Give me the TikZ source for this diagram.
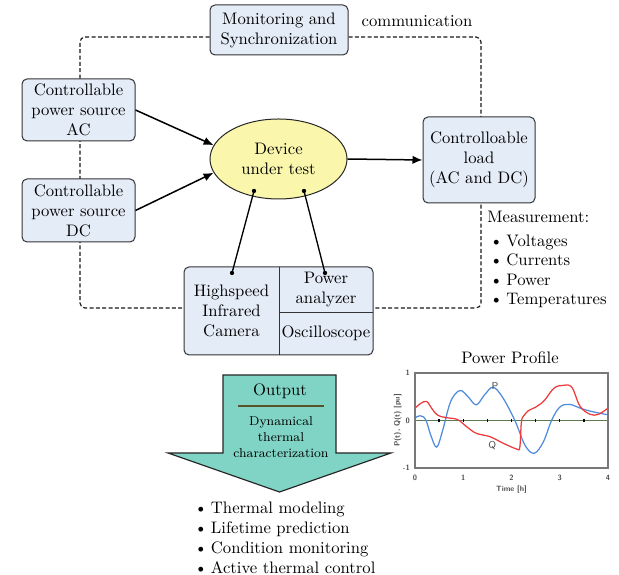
\documentclass[tikz,border=0pt]{standalone}
\usetikzlibrary{shapes.geometric,arrows.meta,calc}
\pgfdeclarelayer{bg}
\pgfsetlayers{bg,main}
\definecolor{boxfill}{RGB}{228,236,247}
\definecolor{dutfill}{RGB}{250,247,172}
\definecolor{outfill}{RGB}{128,212,197}
\definecolor{rulecol}{RGB}{88,84,40}
\definecolor{pcurve}{RGB}{80,140,222}
\definecolor{qcurve}{RGB}{238,58,58}
\definecolor{zeroline}{RGB}{92,122,82}
\definecolor{framecol}{RGB}{120,120,120}

\begin{document}
\begin{tikzpicture}[x=0.6pt,y=-0.6pt,
  font=\fontsize{10}{12}\selectfont,
  wh/.style 2 args={minimum width=#1*0.6pt, minimum height=#2*0.6pt},
  block/.style={draw=black!80, fill=boxfill, rounded corners=3pt, line width=0.6pt,
                align=center, inner sep=0pt},
  flow/.style={line width=0.9pt, -{Latex[length=6pt,width=5pt]}},
  probe/.style={line width=0.8pt},
  comm/.style={line width=0.7pt, black!90, dash pattern=on 2.4pt off 1.4pt, rounded corners=3pt},
  plain/.style={inner sep=0pt, align=center},
  tiny/.style={inner sep=0pt, font=\fontsize{4.6}{5}\selectfont\sffamily\bfseries, text=black!70}]

\useasboundingbox (0,0) rectangle (619,575);

% main blocks
\node[block, wh={138}{50}] (mon) at (279,30) {Monitoring and\\Synchronization};
\node[plain] (commlbl) at (417,21) {communication};
\node[block, wh={113}{62}] (ac) at (78.5,110) {Controllable\\power source\\AC};
\node[block, wh={113}{63}] (dc) at (78.5,210.5) {Controllable\\power source\\DC};
\node[ellipse, draw=black!85, line width=0.6pt, fill=dutfill, wh={137}{80}, plain] (dut) at (278.5,159) {Device\\under test};
\node[block, wh={112}{86}] (load) at (479,160) {Controlloable\\load\\(AC and DC)};

% instrument block
\node[block, wh={189}{88}] (inst) at (278.5,311) {};
\node[plain, wh={95}{88}] (cam) at (231.5,311) {Highspeed\\Infrared\\Camera};
\node[plain, wh={94}{44}] (pa) at (326,290) {Power\\analyzer};
\node[plain, wh={94}{44}] (osc) at (326,333) {Oscilloscope};
\draw[line width=0.6pt, black!80] (cam.north east) -- (cam.south east);
\draw[line width=0.6pt, black!80] (pa.south west) -- (pa.south east);

% communication loop
\coordinate (tl) at (80,37);
\coordinate (bl) at (80,308);
\coordinate (tr) at (481,37);
\coordinate (br) at (481,308);
\begin{pgfonlayer}{bg}
  \draw[comm] (mon.west |- tl) -- (tl) -- (bl) -- (inst.west |- bl);
  \draw[comm] (mon.east |- tr) -- (tr) -- (br) -- (inst.east |- br);
\end{pgfonlayer}

% power flow
\draw[flow] (ac.east) -- (dut.168);
\draw[flow] (dc.east) -- (dut.192);
\draw[flow] (dut.east) -- (load.west);

% probes
\coordinate (d1) at (254,191);
\coordinate (d2) at (304,191);
\coordinate (c1) at (232,273);
\coordinate (c2) at (325,273);
\draw[probe] (d1) -- (c1);
\draw[probe] (d2) -- (c2);
\foreach \p in {d1,d2,c1,c2} \fill (\p) circle (1.3pt);

% measurement list
\node[anchor=north west, inner sep=0pt, align=left,
      font=\fontsize{10}{11.7}\selectfont] (meas) at (487,211)
  {Measurement:\\[2.4pt]
   \hspace*{1.5pt}\textbullet\hspace{2.2pt}Voltages\\
   \hspace*{1.5pt}\textbullet\hspace{2.2pt}Currents\\
   \hspace*{1.5pt}\textbullet\hspace{2.2pt}Power\\
   \hspace*{1.5pt}\textbullet\hspace{2.2pt}Temperatures};

% output arrow
\draw[fill=outfill, draw=black!85, line width=0.7pt]
  (223,375) -- (336,375) -- (336,453) -- (391,453) -- (279.5,492)
  -- (168,453) -- (223,453) -- cycle;
\node[plain] (outlbl) at (280,391) {Output};
\coordinate (r1) at (238,406);
\coordinate (r2) at (324,406);
\draw[rulecol, line width=1.6pt] (r1) -- (r2);
\node[plain, font=\fontsize{7.7}{9.6}\selectfont] (dtc) at (281,437)
  {Dynamical\\thermal\\characterization};

% applications
\node[anchor=north west, inner sep=0pt, align=left,
      font=\fontsize{10}{11.9}\selectfont] (apps) at (194,502)
  {\textbullet\hspace{2.2pt}Thermal modeling\\
   \textbullet\hspace{2.2pt}Lifetime prediction\\
   \textbullet\hspace{2.2pt}Condition monitoring\\
   \textbullet\hspace{2.2pt}Active thermal control};

% power profile plot
\node[plain] (ptitle) at (510,358) {Power Profile};
\begin{scope}[shift={(415,420.5)}, x=28.95pt, y=28.5pt]
  \draw[zeroline, line width=1pt] (0,0) -- (4,0);
  \foreach \t in {0.5,1,...,3.5} \draw[line width=0.8pt] (\t,-0.035) -- (\t,0.035);
  \draw[pcurve, line width=0.75pt] plot[smooth, tension=0.6] coordinates {
    (0,0.05) (0.1,0.1) (0.22,0.02) (0.33,-0.32) (0.45,-0.56) (0.57,-0.22)
    (0.74,0.4) (0.93,0.63) (1.1,0.5) (1.27,0.33) (1.45,0.55) (1.62,0.7)
    (1.82,0.48) (2.07,0) (2.28,-0.52) (2.47,-0.69) (2.66,-0.45) (2.83,0)
    (3.0,0.28) (3.2,0.34) (3.45,0.25) (3.7,0.18) (4,0.12)};
  \draw[qcurve, line width=0.75pt] plot[smooth, tension=0.6] coordinates {
    (0,0.26) (0.12,0.36) (0.24,0.4) (0.35,0.25) (0.47,0.11) (0.65,0.06)
    (0.88,0.02) (1.07,-0.13) (1.27,-0.27) (1.55,-0.34) (1.83,-0.48)
    (2.05,-0.58) (2.16,-0.62)};
  \draw[qcurve, line width=0.75pt] (2.16,-0.62) .. controls (2.2,-0.5) and (2.18,-0.1) .. (2.22,0.05);
  \draw[qcurve, line width=0.75pt] plot[smooth, tension=0.6] coordinates {
    (2.22,0.05) (2.34,0.2) (2.5,0.28) (2.68,0.42) (2.88,0.68) (3.07,0.74)
    (3.25,0.7) (3.42,0.3) (3.63,0.13) (3.8,0.13) (4,0.26)};
  \draw[framecol, line width=0.9pt] (0,-1) rectangle (4,1);
  \foreach \t in {0,...,4} \node[tiny] at (\t,-1.2) {\t};
  \node[tiny, anchor=east] at (-0.1,1) {1};
  \node[tiny, anchor=east] at (-0.1,0) {0};
  \node[tiny, anchor=east] at (-0.1,-1) {-1};
  \node[tiny] (xlbl) at (2,-1.46) {Time [h]};
  \node[tiny, rotate=90] (ylbl) at (-0.36,0) {P(t), Q(t) [pu]};
  \node[tiny, font=\fontsize{6}{6}\selectfont\sffamily] (plbl) at (1.66,0.73) {P};
  \node[tiny, font=\fontsize{6}{6}\selectfont\sffamily] (qlbl) at (1.6,-0.53) {Q};
\end{scope}
\end{tikzpicture}
\end{document}
